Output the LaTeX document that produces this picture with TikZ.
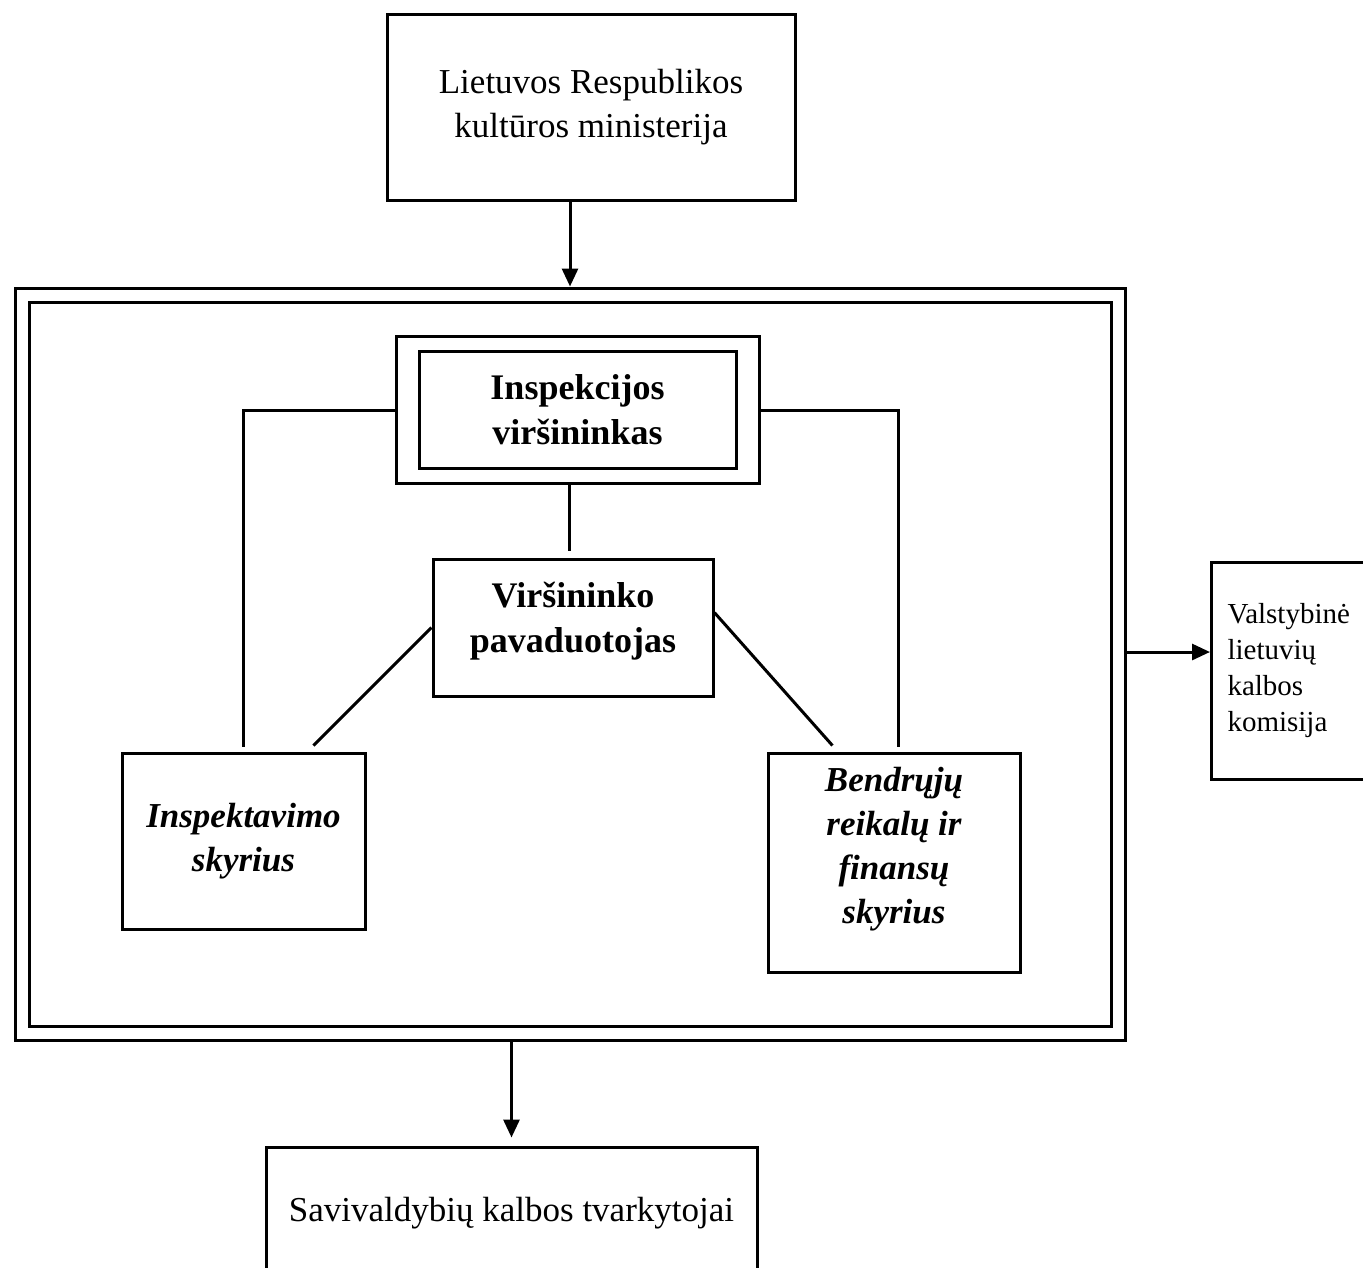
\documentclass[tikz,border=0pt]{standalone}
\usepackage{fontspec}
\setmainfont{Liberation Serif}
\usetikzlibrary{arrows.meta}

\begin{document}
\begin{tikzpicture}[x=1pt, y=-1pt,
    box/.style={draw, line width=3pt, align=center, inner sep=0pt,
        font=\fontsize{35}{44}\selectfont},
    boss/.style={box, font=\bfseries\fontsize{36}{45}\selectfont},
    unit/.style={box, font=\bfseries\itshape\fontsize{35}{44}\selectfont},
    link/.style={line width=3pt},
    arrow/.style={line width=3pt, -{Triangle[length=18pt,width=16pt]}}]
    \useasboundingbox (0,0) rectangle (1363,1267);
    \clip (0,0) rectangle (1363,1267);
    % boxes
    \node[box, minimum width=408pt, minimum height=186pt] (ministry) at (591,107)
        {Lietuvos Respublikos\\kultūros ministerija};
    \node[draw, line width=3pt, double, double distance=11pt, outer sep=8.5pt,
        minimum width=1096pt, minimum height=738pt, inner sep=0pt] (frame) at (570,664) {};
    \node[draw, line width=3pt, minimum width=363pt, minimum height=147pt] (chief) at (577.5,410) {};
    \node[boss, minimum width=317pt, minimum height=117pt] (chiefin) at (577.5,409.5)
        {Inspekcijos\\viršininkas};
    \node[boss, minimum width=280pt, minimum height=137pt] (deputy) at (573,627.5)
        {Viršininko\\pavaduotojas\\[-24pt]\mbox{}};
    \node[unit, minimum width=243pt, minimum height=176pt] (inspect) at (243.5,841)
        {Inspektavimo\\skyrius};
    \node[unit, minimum width=252pt, minimum height=219pt] (finance) at (894,862.5)
        {Bendrųjų\\reikalų ir\\finansų\\skyrius\\[-10pt]\mbox{}};
    \node[box, anchor=west, align=left, text width=140pt, inner xsep=16pt,
        minimum height=217pt, font=\fontsize{29}{36}\selectfont] (commission) at (1210,671)
        {Valstybinė\\lietuvių\\kalbos\\komisija};
    \node[box, minimum width=491pt, minimum height=132pt] (towns) at (511.5,1213)
        {Savivaldybių kalbos tvarkytojai};
    % connectors
    \draw[arrow] (ministry.south -| frame.north) -- (frame.north);
    \draw[link] (chief.west) -| ([yshift=5pt]inspect.north);
    \draw[link] (chief.east) -| ([yshift=5pt,xshift=4pt]finance.north);
    \draw[link] ([xshift=-4pt]deputy.north |- chief.south) -- ([xshift=-4pt,yshift=7pt]deputy.north);
    \draw[link] (deputy.west) -- ([yshift=6pt]inspect.52);
    \draw[link] (deputy.6) -- ([yshift=6pt]finance.119);
    \draw[arrow] ([yshift=12pt]frame.east) -- ([yshift=12pt]frame.east -| commission.west);
    \draw[arrow] (frame.south -| towns.north) -- ([yshift=8pt]towns.north);
\end{tikzpicture}
\end{document}
